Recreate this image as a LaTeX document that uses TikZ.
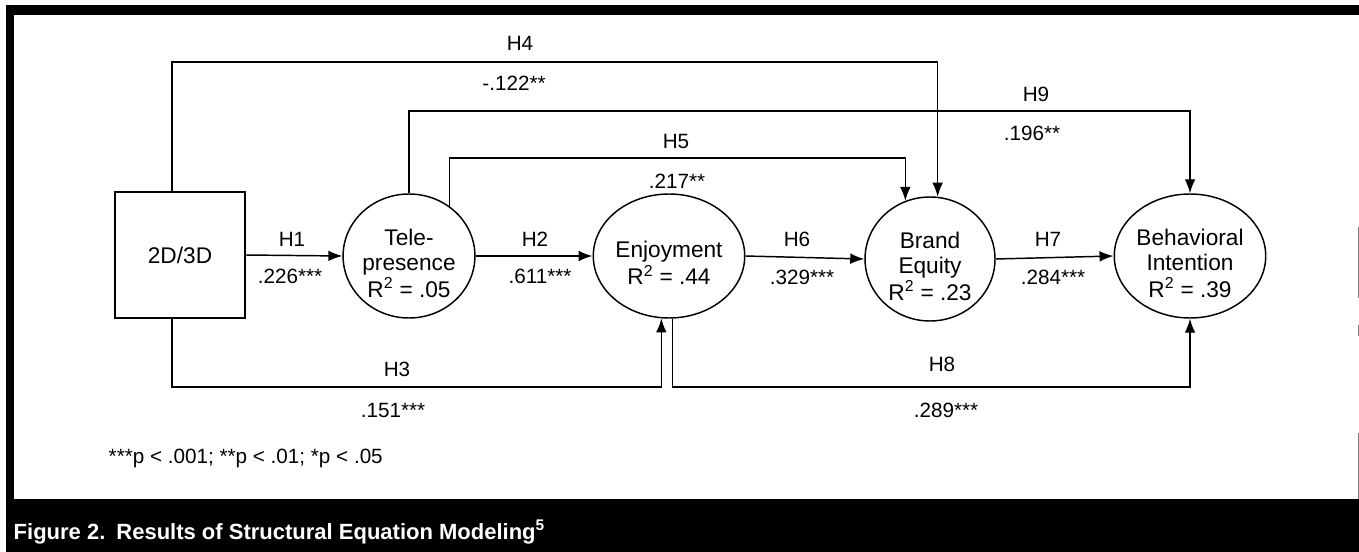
\documentclass[tikz,border=0pt]{standalone}
\usepackage{fontspec}
\setmainfont{Liberation Sans}
\usetikzlibrary{shapes.geometric,arrows.meta}
\newcommand{\inside}[1]{\raisebox{-12pt}[0pt][0pt]{\begin{tabular}{@{}c@{}}#1\end{tabular}}}
\begin{document}
\begin{tikzpicture}[x=0.75pt,y=-0.75pt,
  line width=1.1pt,
  conn/.style={-{Latex[length=10.5pt,width=8pt]}},
  construct/.style={draw,ellipse,minimum width=97.5pt,minimum height=93pt,inner sep=0pt,font=\fontsize{17}{18.75}\selectfont},
  boxnode/.style={draw,rectangle,minimum width=97.5pt,minimum height=94.5pt,inner sep=0pt,font=\fontsize{17}{20}\selectfont},
  lbl/.style={font=\fontsize{15.5}{18}\selectfont,inner sep=0pt},
  frame/.style={fill=black,draw=none}]
\useasboundingbox (0,0) rectangle (1359,552);
\fill[white] (0,0) rectangle (1359,552);
% frame
\path[frame] (6,5) rectangle (1359,15);
\path[frame] (6,5) rectangle (14,499);
\path[frame] (6,499) rectangle (1359,552);
\draw[gray,line width=0.6pt] (1358,227) -- (1358,298);
\draw[gray,line width=0.6pt] (1358,325) -- (1358,336);
\draw[gray,line width=0.6pt] (1358,433) -- (1358,499);
% nodes
\node[boxnode] (box) at (180,255) {2D/3D};
\node[construct] (tele) at (409,256) {\inside{Tele-\\presence\\R\textsuperscript{2} = .05}};
\node[construct] (enj) at (669,256) {\inside{Enjoyment\\R\textsuperscript{2} = .44}};
\node[construct] (be) at (930,259) {\inside{Brand\\Equity\\R\textsuperscript{2} = .23}};
\node[construct] (bi) at (1190,256) {\inside{Behavioral\\Intention\\R\textsuperscript{2} = .39}};
% level coordinates
\coordinate (h4y) at (0,62);
\coordinate (h9y) at (0,111);
\coordinate (h5y) at (0,158);
\coordinate (h3y) at (0,387);
% straight arrows
\draw[conn] (box.east) -- (tele.west);
\draw[conn] (tele.east) -- (enj.west);
\draw[conn] (enj.east) -- (be.west);
\draw[conn] (be.east) -- (bi.west);
% routed arrows
\draw[conn] ([xshift=-6pt]box.north) |- (be.83 |- h4y) -- (be.83);
\draw[conn] (tele.north) |- (bi.north |- h9y) -- (bi.north);
\draw[conn] (tele.51) |- (be.113 |- h5y) -- (be.113);
\draw[conn] ([xshift=-6pt]box.south) |- (enj.263 |- h3y) -- (enj.263);
\draw[conn] (enj.273) |- (bi.south |- h3y) -- (bi.south);
% labels
\node[lbl] (lh1) at (292,239) {H1};
\node[lbl] (lh1v) at (290,276) {.226***};
\node[lbl] (lh2) at (535,239) {H2};
\node[lbl] (lh2v) at (540,276) {.611***};
\node[lbl] (lh6) at (797,239) {H6};
\node[lbl] (lh6v) at (802,277) {.329***};
\node[lbl] (lh7) at (1048,239) {H7};
\node[lbl] (lh7v) at (1053,277) {.284***};
\node[lbl] (lh3) at (397,369) {H3};
\node[lbl] (lh3v) at (393,410) {.151***};
\node[lbl] (lh8) at (942,364) {H8};
\node[lbl] (lh8v) at (946,410) {.289***};
\node[lbl] (lh4) at (520,43) {H4};
\node[lbl] (lh4v) at (514,83) {-.122**};
\node[lbl] (lh9) at (1036,94) {H9};
\node[lbl] (lh9v) at (1032,133) {.196**};
\node[lbl] (lh5) at (676,141) {H5};
\node[lbl] (lh5v) at (677,181) {.217**};
% footnote and caption
\node[anchor=west,inner sep=0pt,font=\fontsize{15.5}{18}\selectfont] (foot) at (108,458) {***p < .001; **p < .01; *p < .05};
\node[anchor=west,inner sep=0pt,text=white,font=\fontsize{16.5}{20}\selectfont\bfseries] (cap) at (13,532) {Figure 2.\hspace{0.5em}Results of Structural Equation Modeling\textsuperscript{5}};
\end{tikzpicture}
\end{document}
